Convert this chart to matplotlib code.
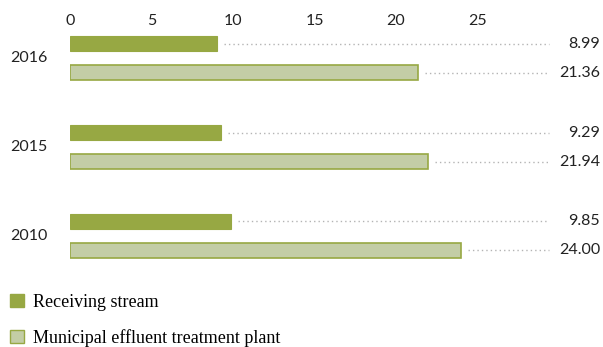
import matplotlib
matplotlib.use("Agg")
import matplotlib.pyplot as plt
from matplotlib.patches import Patch
import numpy as np

# data
years = ["2016", "2015", "2010"]
receiving_stream = [8.99, 9.29, 9.85]
municipal_plant = [21.36, 21.94, 24.00]
series_names = ["Receiving stream", "Municipal effluent treatment plant"]
x_ticks = [0, 5, 10, 15, 20, 25]

dark = "#97a843"
light = "#c3cda6"
txt = "#222222"

plt.rcParams['font.family'] = ['Lato', 'DejaVu Sans']

fig = plt.figure(figsize=(6.03, 3.47), dpi=100)
W, H = 603, 347
# axes placed in pixel terms: x from 70 to 590, y from 30 to 265
ax = fig.add_axes([70 / W, 1 - 265 / H, 520 / W, 235 / H])

ppu = 16.3  # pixels per unit
xmax = 520 / ppu
ax.set_xlim(0, xmax)
ax.set_ylim(2.326, -0.315)

pos = np.arange(len(years))
off = 0.163
bh = 0.175

ax.barh(pos - off, receiving_stream, height=bh, color=dark, edgecolor=dark, linewidth=0.8)
ax.barh(pos + off, municipal_plant, height=bh, color=light, edgecolor=dark, linewidth=1.2)

line_end = (549 - 70) / ppu
label_x = (600 - 70) / ppu
for i in range(len(years)):
    for val, y in [(receiving_stream[i], pos[i] - off), (municipal_plant[i], pos[i] + off)]:
        ax.plot([val + 7 / ppu, line_end], [y, y], color="#b4b4b4", linestyle=(0, (1, 2.2)),
                linewidth=1.0, clip_on=False)
        ax.text(label_x, y, f"{val:.2f}", ha="right", va="center", fontsize=11.5, color=txt,
                clip_on=False)
    ax.text(-60 / ppu, pos[i], years[i], ha="left", va="center", fontsize=11.5, color=txt)

ax.xaxis.tick_top()
ax.set_xticks(x_ticks)
ax.set_xticklabels([str(t) for t in x_ticks], fontsize=11.5, color=txt)
ax.tick_params(axis="x", length=0, pad=1.5)
ax.set_yticks([])
for s in ax.spines.values():
    s.set_visible(False)

handles = [Patch(facecolor=dark, edgecolor=dark), Patch(facecolor=light, edgecolor=dark)]
fig.legend(handles, series_names, loc="upper left", bbox_to_anchor=(10 / W, 1 - 294 / H),
           frameon=False, handlelength=0.75, handleheight=0.75, handletextpad=0.5,
           labelspacing=1.0, borderaxespad=0, borderpad=0,
           prop={"family": ["Liberation Serif", "DejaVu Serif"], "size": 13})

fig.savefig("out.png", dpi=100)
